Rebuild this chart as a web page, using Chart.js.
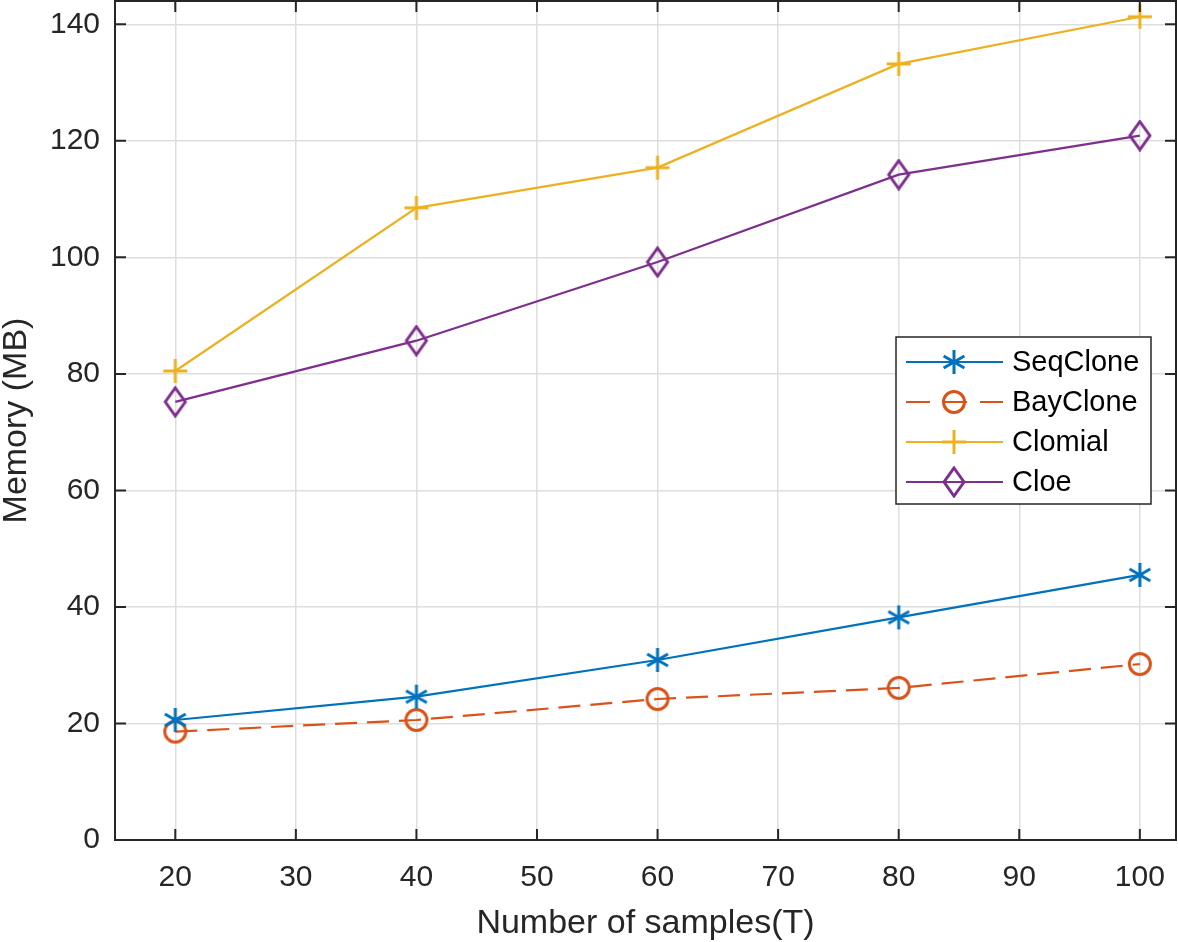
<!DOCTYPE html>
<html>
<head>
<meta charset="utf-8">
<script src="https://cdn.jsdelivr.net/npm/chart.js@4.4.1/dist/chart.umd.min.js"></script>
<style>
  html, body { margin: 0; padding: 0; background: #fff; }
  #wrap { width: 1178px; height: 942px; }
</style>
</head>
<body>
<div id="wrap"><canvas id="memChart" width="1178" height="942"></canvas></div>
<script>
// data
const samples = [20, 40, 60, 80, 100];
const seqClone = [20.6, 24.6, 30.9, 38.2, 45.5];
const bayClone = [18.6, 20.6, 24.2, 26.1, 30.2];
const clomial = [80.5, 108.5, 115.4, 133.2, 141.3];
const cloe = [75.2, 85.7, 99.2, 114.2, 120.9];
const xTicks = [20, 30, 40, 50, 60, 70, 80, 90, 100];
const yTicks = [0, 20, 40, 60, 80, 100, 120, 140];

const axisColor = '#262626';
const fontFam = '"Liberation Sans", Arial, Helvetica, sans-serif';

// marker images (matlab style)
function asterisk(color) {
    const c = document.createElement('canvas');
    c.width = 28; c.height = 28;
    const g = c.getContext('2d');
    g.strokeStyle = color; g.lineWidth = 3; g.lineCap = 'butt';
    const r = 12;
    for (let a of [90, 30, 150]) {
        const t = a * Math.PI / 180;
        g.beginPath();
        g.moveTo(14 - r * Math.cos(t), 14 - r * Math.sin(t));
        g.lineTo(14 + r * Math.cos(t), 14 + r * Math.sin(t));
        g.stroke();
    }
    return c;
}
function diamond(color) {
    const c = document.createElement('canvas');
    c.width = 26; c.height = 32;
    const g = c.getContext('2d');
    g.strokeStyle = color; g.lineWidth = 3;
    g.beginPath();
    g.moveTo(13, 2); g.lineTo(23, 16); g.lineTo(13, 30); g.lineTo(3, 16); g.closePath();
    g.stroke();
    return c;
}
function plus(color) {
    const c = document.createElement('canvas');
    c.width = 26; c.height = 26;
    const g = c.getContext('2d');
    g.strokeStyle = color; g.lineWidth = 3;
    g.beginPath();
    g.moveTo(13, 1); g.lineTo(13, 25);
    g.moveTo(1, 13); g.lineTo(25, 13);
    g.stroke();
    return c;
}
function ring(color) {
    const c = document.createElement('canvas');
    c.width = 26; c.height = 26;
    const g = c.getContext('2d');
    g.strokeStyle = color; g.lineWidth = 3;
    g.beginPath();
    g.arc(13, 13, 10.5, 0, Math.PI * 2);
    g.stroke();
    return c;
}

const colors = ['#0072BD', '#D95319', '#EDB120', '#7E2F8E'];

function pts(arr) {
    return samples.map((x, i) => ({ x: x, y: arr[i] }));
}

// plot box like the matlab figure: left 115, top 1, right 1176, bottom 840
const fixArea = {
    id: 'fixArea',
    afterLayout(chart) {
        const a = chart.chartArea;
        const xs = chart.scales.x, ys = chart.scales.y;
        a.top = 1; a.right = 1176;
        a.width = a.right - a.left; a.height = a.bottom - a.top;
        ys.top = a.top; ys.height = ys.bottom - ys.top;
        xs.right = a.right; xs.width = xs.right - xs.left;
        ys.configure();
        xs.configure();
    }
};

// box, inward ticks and legend
const matlabAxes = {
    id: 'matlabAxes',
    afterDatasetsDraw(chart) {
        const ctx = chart.ctx;
        const a = chart.chartArea;
        const xs = chart.scales.x, ys = chart.scales.y;
        ctx.save();
        ctx.strokeStyle = axisColor;
        ctx.lineWidth = 2;
        ctx.strokeRect(a.left, a.top, a.right - a.left, a.bottom - a.top);
        const tl = 11;
        ctx.beginPath();
        xTicks.forEach(v => {
            const px = xs.getPixelForValue(v);
            ctx.moveTo(px, a.bottom); ctx.lineTo(px, a.bottom - tl);
            ctx.moveTo(px, a.top); ctx.lineTo(px, a.top + tl);
        });
        yTicks.forEach(v => {
            const py = ys.getPixelForValue(v);
            ctx.moveTo(a.left, py); ctx.lineTo(a.left + tl, py);
            ctx.moveTo(a.right, py); ctx.lineTo(a.right - tl, py);
        });
        ctx.stroke();

        // legend
        const bx = a.right - 280, by = a.top + 336, bw = 255, bh = 167;
        ctx.fillStyle = '#fff';
        ctx.fillRect(bx, by, bw, bh);
        ctx.strokeStyle = '#262626';
        ctx.lineWidth = 1.5;
        ctx.strokeRect(bx, by, bw, bh);
        ctx.font = '29px ' + fontFam;
        ctx.textBaseline = 'middle';
        chart.data.datasets.forEach((ds, i) => {
            const ry = by + 25 + i * 40;
            ctx.strokeStyle = ds.borderColor;
            ctx.lineWidth = ds.borderWidth;
            ctx.setLineDash(ds.borderDash ? [24, 13] : []);
            ctx.beginPath();
            ctx.moveTo(bx + 10, ry); ctx.lineTo(bx + 107, ry);
            ctx.stroke();
            ctx.setLineDash([]);
            const mx = bx + 58;
            const ps = ds.pointStyle;
            ctx.drawImage(ps, mx - ps.width / 2, ry - ps.height / 2);
            ctx.fillStyle = '#000';
            ctx.fillText(ds.label, bx + 116, ry + 1);
        });
        ctx.restore();
    }
};

const ctx = document.getElementById('memChart').getContext('2d');
const myChart = new Chart(ctx, {
    type: 'line',
    data: {
        datasets: [{
            label: 'SeqClone',
            data: pts(seqClone),
            borderColor: colors[0],
            borderWidth: 2.2,
            pointStyle: asterisk(colors[0])
        }, {
            label: 'BayClone',
            data: pts(bayClone),
            borderColor: colors[1],
            borderWidth: 2.2,
            borderDash: [22, 10],
            pointStyle: ring(colors[1])
        }, {
            label: 'Clomial',
            data: pts(clomial),
            borderColor: colors[2],
            borderWidth: 2.2,
            pointStyle: plus(colors[2])
        }, {
            label: 'Cloe',
            data: pts(cloe),
            borderColor: colors[3],
            borderWidth: 2.2,
            pointStyle: diamond(colors[3])
        }]
    },
    options: {
        responsive: false,
        animation: false,
        layout: { padding: { top: 1, right: 2, left: 0, bottom: 0 } },
        elements: { point: { radius: 12 } },
        plugins: {
            legend: { display: false },
            tooltip: { enabled: false }
        },
        scales: {
            x: {
                type: 'linear',
                min: 15,
                max: 103,
                afterBuildTicks: s => { s.ticks = xTicks.map(v => ({ value: v })); },
                afterFit: s => { s.height = 102; },
                border: { display: false },
                grid: { color: '#dedede', lineWidth: 1.5, drawTicks: false },
                ticks: {
                    color: axisColor,
                    padding: 20,
                    maxRotation: 0,
                    font: { family: fontFam, size: 30 }
                },
                title: {
                    display: true,
                    text: 'Number of samples(T)',
                    color: axisColor,
                    padding: { top: 0, bottom: 1 },
                    font: { family: fontFam, size: 34, lineHeight: 1 }
                }
            },
            y: {
                min: 0,
                max: 144,
                afterBuildTicks: s => { s.ticks = yTicks.map(v => ({ value: v })); },
                afterFit: s => { s.width = 115; },
                border: { display: false },
                grid: { color: '#dedede', lineWidth: 1.5, drawTicks: false },
                ticks: {
                    color: axisColor,
                    padding: 15,
                    font: { family: fontFam, size: 30 }
                },
                title: {
                    display: true,
                    text: 'Memory (MB)',
                    color: axisColor,
                    padding: { top: 0, bottom: 0 },
                    font: { family: fontFam, size: 34, lineHeight: 1 }
                }
            }
        }
    },
    plugins: [fixArea, matlabAxes]
});
</script>
</body>
</html>
